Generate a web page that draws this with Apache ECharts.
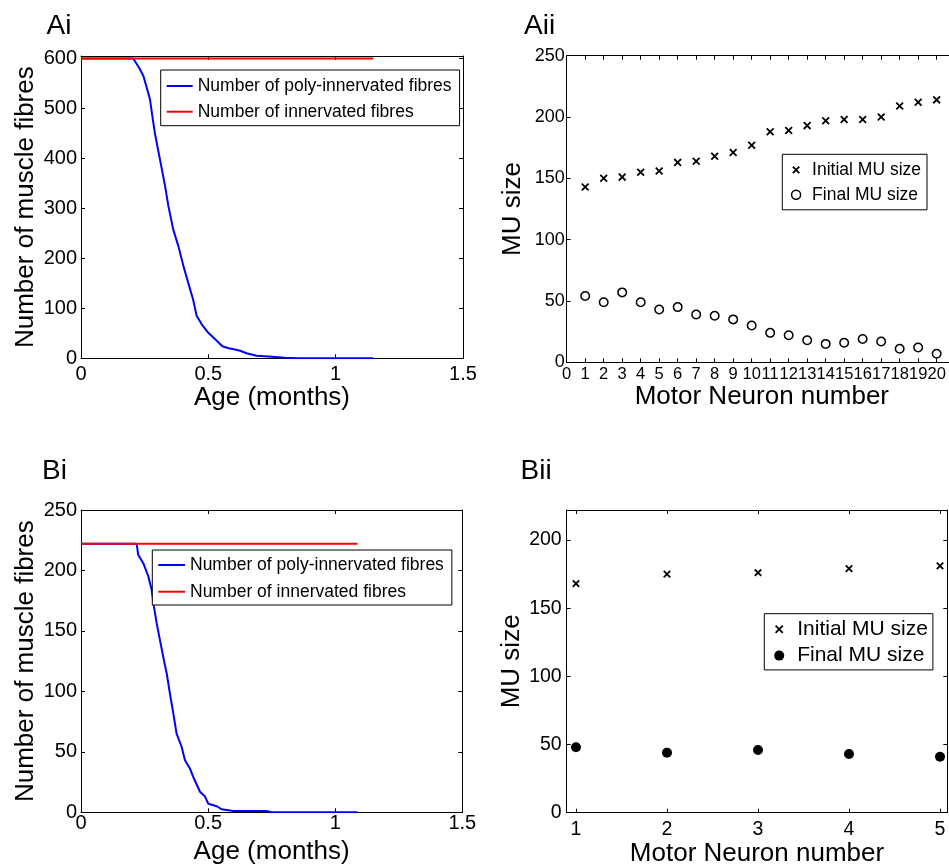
<!DOCTYPE html>
<html><head><meta charset="utf-8">
<script src="https://cdn.jsdelivr.net/npm/echarts@6/dist/echarts.min.js"></script>
<style>html,body{margin:0;padding:0;background:#fff}#c{width:949px;height:867px}</style>
</head><body><div id="c"></div>
<script>
const FONT = '"Liberation Sans", Arial, Helvetica, sans-serif';

// ---- Panel Ai ----
const aiAgePoly = [0, 0.205, 0.212, 0.23, 0.245, 0.258, 0.271, 0.28, 0.29, 0.31, 0.33, 0.343, 0.362, 0.382, 0.402, 0.421, 0.44, 0.454, 0.474, 0.5, 0.533, 0.555, 0.58, 0.6, 0.625, 0.65, 0.69, 0.75, 0.8, 0.85, 1.148];
const aiPoly    = [600, 600, 596, 580, 565, 542, 518, 485, 451, 398, 345, 305, 258, 225, 185, 151, 118, 85, 68, 51, 35, 24, 20, 18, 15, 10, 5, 3, 1, 0, 0];
const aiAgeInn  = [0, 1.148];
const aiInn     = [600, 600];
const ageTicks  = [0, 0.5, 1, 1.5];
const aiYTicks  = [0, 100, 200, 300, 400, 500, 600];

// ---- Panel Aii ----
const aiiNeuron  = [1, 2, 3, 4, 5, 6, 7, 8, 9, 10, 11, 12, 13, 14, 15, 16, 17, 18, 19, 20];
const aiiInitial = [143, 150, 151, 155, 156, 163, 164, 168, 171, 177, 188, 189, 193, 197, 198, 198, 200, 209, 212, 214];
const aiiFinal   = [54, 49, 57, 49, 43, 45, 39, 38, 35, 30, 24, 22, 18, 15, 16, 19, 17, 11, 12, 7];
const aiiXTicks  = [0, 1, 2, 3, 4, 5, 6, 7, 8, 9, 10, 11, 12, 13, 14, 15, 16, 17, 18, 19, 20];
const aiiYTicks  = [0, 50, 100, 150, 200, 250];

// ---- Panel Bi ----
const biAgePoly = [0, 0.219, 0.225, 0.245, 0.265, 0.278, 0.287, 0.298, 0.311, 0.326, 0.337, 0.35, 0.363, 0.376, 0.396, 0.409, 0.429, 0.442, 0.455, 0.468, 0.488, 0.501, 0.534, 0.553, 0.6, 0.73, 0.75, 1.088];
const biPoly    = [222, 222, 213, 206, 195, 184, 170, 156, 142, 126, 115, 98, 82, 65, 54, 43, 36, 29, 23, 17, 13, 7, 5, 2.5, 1, 1, 0, 0];
const biAgeInn  = [0, 1.088];
const biInn     = [222, 222];
const biYTicks  = [0, 50, 100, 150, 200, 250];

// ---- Panel Bii ----
const biiNeuron  = [1, 2, 3, 4, 5];
const biiInitial = [168, 175, 176, 179, 181];
const biiFinal   = [48, 44, 46, 43, 41];
const biiXTicks  = [1, 2, 3, 4, 5];
const biiYTicks  = [0, 50, 100, 150, 200];

const NAME_POLY = 'Number of poly-innervated fibres';
const NAME_INN = 'Number of innervated fibres';
const NAME_INIT = 'Initial MU size';
const NAME_FINAL = 'Final MU size';
const CROSS = 'path://M-2,-2M12,12M0,0L10,10M10,0L0,10';

const zip = (xs, ys) => xs.map((x, i) => [x, ys[i]]);

const xAxis = [], yAxis = [];
function boxAxes(gi, o) {
  const line = {show: true, onZero: false, lineStyle: {color: '#000', width: 1}};
  const tick = (vals) => ({show: true, inside: true, length: 4, customValues: vals, lineStyle: {color: '#000', width: 1}});
  const nameStyle = {fontSize: 26, color: '#000', fontFamily: FONT};
  const lbl = (vals, margin, fs) => ({customValues: vals, fontSize: fs, margin, color: '#000', fontFamily: FONT,
    hideOverlap: false, showMinLabel: true, showMaxLabel: true});
  xAxis.push({type: 'value', gridIndex: gi, position: 'bottom', min: o.xr[0], max: o.xr[1],
    axisLine: line, axisTick: tick(o.xt), splitLine: {show: false}, axisLabel: lbl(o.xt, o.xm, o.fsx || o.fs),
    name: o.xn, nameLocation: 'middle', nameGap: o.xg, nameTextStyle: nameStyle});
  xAxis.push({type: 'value', gridIndex: gi, position: 'top', min: o.xr[0], max: o.xr[1],
    axisLine: line, axisTick: tick(o.xt), splitLine: {show: false}, axisLabel: {show: false}});
  yAxis.push({type: 'value', gridIndex: gi, position: 'left', min: o.yr[0], max: o.yr[1],
    axisLine: line, axisTick: tick(o.yt), splitLine: {show: false}, axisLabel: lbl(o.yt, o.ym, o.fs),
    name: o.yn, nameLocation: 'middle', nameGap: o.yg, nameTextStyle: nameStyle});
  yAxis.push({type: 'value', gridIndex: gi, position: 'right', min: o.yr[0], max: o.yr[1], show: o.right !== false,
    axisLine: line, axisTick: tick(o.yt), splitLine: {show: false}, axisLabel: {show: false}});
}

boxAxes(0, {xr: [0, 1.5], yr: [0, 605], xt: ageTicks, yt: aiYTicks, xm: 6, ym: 4, fs: 20,
  xn: 'Age (months)', xg: 26, yn: 'Number of muscle fibres', yg: 42});
boxAxes(1, {xr: [0, 21.1], yr: [0, 250], xt: aiiXTicks, yt: aiiYTicks, xm: 4, ym: 2, fs: 18, fsx: 16.5,
  xn: 'Motor Neuron number', xg: 22, yn: 'MU size', yg: 41, right: false});
boxAxes(2, {xr: [0, 1.5], yr: [0, 250], xt: ageTicks, yt: biYTicks, xm: 1, ym: 4, fs: 20,
  xn: 'Age (months)', xg: 27, yn: 'Number of muscle fibres', yg: 42});
boxAxes(3, {xr: [0.898, 5.08], yr: [0, 222], xt: biiXTicks, yt: biiYTicks, xm: 7, ym: 5, fs: 19.5,
  xn: 'Motor Neuron number', xg: 23, yn: 'MU size', yg: 42});

const grid = [
  {left: 81, top: 56, width: 382, height: 302.3},
  {left: 566.7, top: 55.7, width: 390.3, height: 306.6},
  {left: 81, top: 510, width: 381.3, height: 302.3},
  {left: 566.7, top: 510, width: 380.6, height: 302.7}
].map(g => Object.assign(g, {containLabel: false, outerBoundsMode: 'none'}));

const lineSeries = (gi, name, xs, ys, color) => ({
  type: 'line', name, xAxisIndex: gi * 2, yAxisIndex: gi * 2, data: zip(xs, ys),
  showSymbol: false, symbol: 'none', lineStyle: {color, width: 2}, itemStyle: {color},
  emphasis: {disabled: true}, z: 2
});
const scatterSeries = (gi, name, xs, ys, symbol, size, style) => ({
  type: 'scatter', name, xAxisIndex: gi * 2, yAxisIndex: gi * 2, data: zip(xs, ys),
  symbol, symbolSize: size, itemStyle: Object.assign({opacity: 1}, style), emphasis: {disabled: true}
});

const CROSS_STYLE = {color: '#000', borderColor: '#000', borderWidth: 1.8};
const OPEN_STYLE = {color: '#fff', borderColor: '#000', borderWidth: 1.5};
const FILL_STYLE = {color: '#000', borderColor: '#000', borderWidth: 0};

const series = [
  lineSeries(0, NAME_POLY, aiAgePoly, aiPoly, '#0000ff'),
  lineSeries(0, NAME_INN, aiAgeInn, aiInn, '#ff0000'),
  lineSeries(2, NAME_POLY, biAgePoly, biPoly, '#0000ff'),
  lineSeries(2, NAME_INN, biAgeInn, biInn, '#ff0000'),
  scatterSeries(1, NAME_INIT, aiiNeuron, aiiInitial, CROSS, 9.5, CROSS_STYLE),
  scatterSeries(1, NAME_FINAL, aiiNeuron, aiiFinal, 'circle', 8.5, OPEN_STYLE),
  scatterSeries(3, NAME_INIT, biiNeuron, biiInitial, CROSS, 9, CROSS_STYLE),
  scatterSeries(3, NAME_FINAL, biiNeuron, biiFinal, 'circle', 10, FILL_STYLE)
];

const legendBase = {orient: 'vertical', backgroundColor: '#fff', borderColor: '#000', borderWidth: 1, borderRadius: 0,
  selectedMode: false, align: 'left'};
const lineItems = [
  {name: NAME_POLY, icon: 'rect', itemStyle: {color: '#0000ff', borderWidth: 0}},
  {name: NAME_INN, icon: 'rect', itemStyle: {color: '#ff0000', borderWidth: 0}}
];
const legend = [
  Object.assign({}, legendBase, {left: 160.7, top: 70, padding: [7, 8, 5, 6], itemGap: 7.7, itemWidth: 26, itemHeight: 2,
    textStyle: {fontSize: 17.5, lineHeight: 18, color: '#000', fontFamily: FONT}, data: lineItems}),
  Object.assign({}, legendBase, {left: 782.3, top: 154.3, padding: [6.5, 6, 6, 8.4], itemGap: 7, itemWidth: 22, itemHeight: 9,
    textStyle: {fontSize: 17.5, lineHeight: 18, color: '#000', fontFamily: FONT},
    data: [{name: NAME_INIT, icon: CROSS, itemStyle: CROSS_STYLE},
           {name: NAME_FINAL, icon: 'circle', itemStyle: OPEN_STYLE}]}),
  Object.assign({}, legendBase, {left: 152.3, top: 550, padding: [6, 8, 4.3, 6], itemGap: 8.7, itemWidth: 26.7, itemHeight: 2,
    textStyle: {fontSize: 17.5, lineHeight: 18, color: '#000', fontFamily: FONT}, data: lineItems}),
  Object.assign({}, legendBase, {left: 764.3, top: 613.7, padding: [5, 5, 3.8, 9], itemGap: 5.4, itemWidth: 26, itemHeight: 10,
    textStyle: {fontSize: 21, lineHeight: 21, color: '#000', fontFamily: FONT},
    data: [{name: NAME_INIT, icon: CROSS, itemStyle: CROSS_STYLE},
           {name: NAME_FINAL, icon: 'circle', itemStyle: FILL_STYLE}]})
];

const panelLabel = (text, left, top) => ({type: 'text', left, top,
  style: {text, fontSize: 28, fontFamily: FONT, fill: '#000'}});

const option = {
  animation: false,
  textStyle: {fontFamily: FONT, color: '#000'},
  graphic: [panelLabel('Ai', 46.5, 12.6), panelLabel('Aii', 524, 12.6), panelLabel('Bi', 42, 457.6), panelLabel('Bii', 520.5, 457.6)],
  grid, xAxis, yAxis, legend, series
};

const chart = echarts.init(document.getElementById('c'), null, {renderer: 'canvas'});
chart.setOption(option);
</script>
</body></html>
